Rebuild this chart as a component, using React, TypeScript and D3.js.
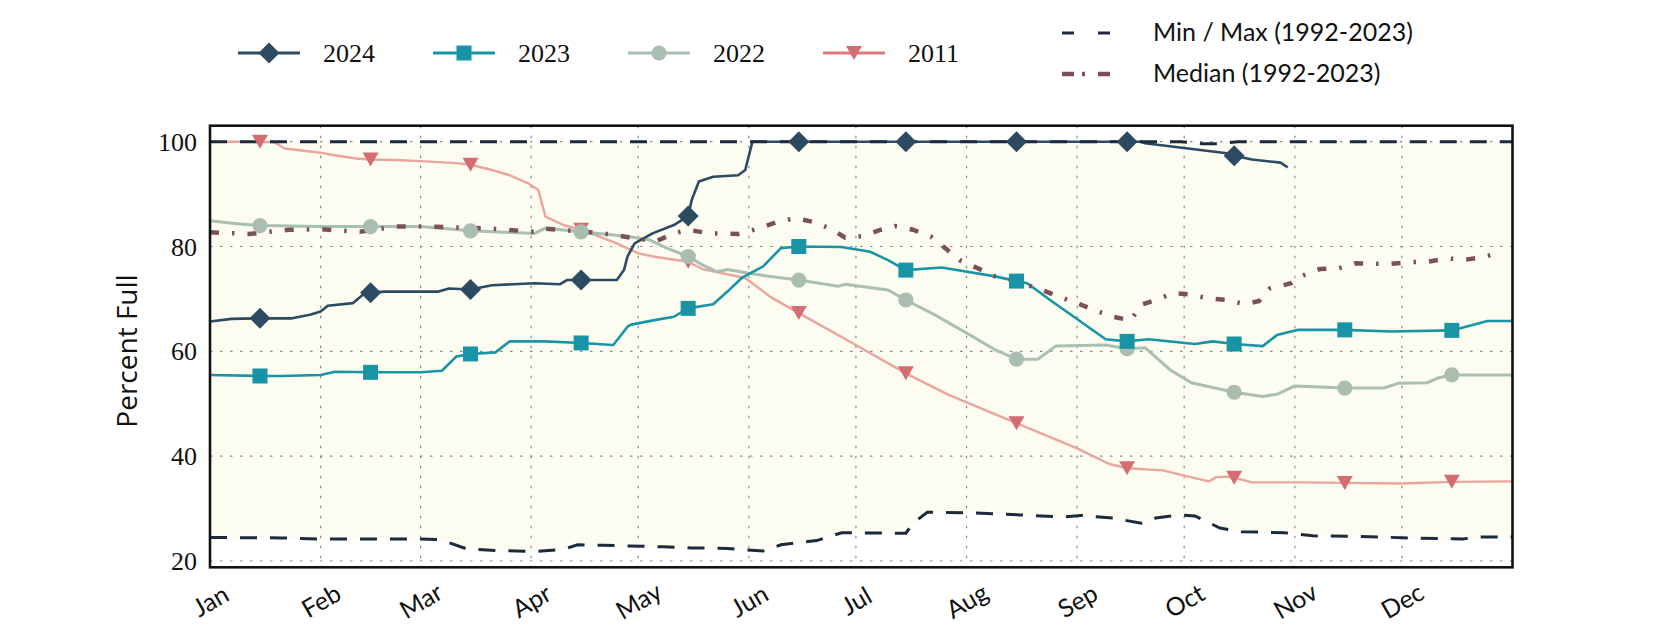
import React, { useRef, useEffect } from 'react';
import * as d3 from 'd3';

type Pt = [number, number]; // [day of year, percent full]

const months = ['Jan', 'Feb', 'Mar', 'Apr', 'May', 'Jun', 'Jul', 'Aug', 'Sep', 'Oct', 'Nov', 'Dec'];
const monthStartDays = [0, 31, 59, 90, 120, 151, 181, 212, 243, 273, 304, 334];
const markerDays = [14, 45, 73, 104, 134, 165, 195, 226, 257, 287, 318, 348];
const yTicks = [20, 40, 60, 80, 100];

const maxLevel: Pt[] = [
  [0, 100], [272, 100], [278, 99.6], [283, 99.6], [288, 100], [365, 100],
];

const minLevel: Pt[] = [
  [0, 24.5], [20, 24.4], [31, 24.2], [59, 24.2], [64, 24.1], [67, 23.5], [72, 22.3], [80, 22.0],
  [91, 21.8], [99, 22.2], [103, 23.1], [110, 23.0], [127, 22.7], [135, 22.5], [145, 22.4],
  [155, 21.9], [160, 23.1], [170, 23.9], [177, 25.4], [195, 25.3], [197, 27.2], [201, 29.3],
  [214, 29.2], [227, 28.8], [239, 28.4], [244, 28.7], [253, 28.2], [261, 27.2], [265, 28.2],
  [272, 28.8], [276, 28.6], [283, 26.3], [289, 25.6], [301, 25.4], [309, 24.8], [322, 24.7],
  [336, 24.4], [351, 24.2], [356, 24.6], [365, 24.6],
];

const medianLevel: Pt[] = [
  [0, 82.7], [11, 82.4], [22, 83.2], [31, 83.3], [42, 82.8], [52, 83.8], [62, 83.8], [79, 83.4],
  [91, 82.8], [94, 83.4], [109, 82.6], [119, 81.6], [125, 81.0], [130, 82.5], [134, 83.2],
  [140, 82.5], [148, 82.4], [154, 83.5], [159, 84.7], [164, 85.4], [169, 84.7], [174, 83.4],
  [178, 81.7], [183, 82.0], [188, 83.2], [192, 83.9], [197, 83.2], [202, 81.9], [206, 79.7],
  [210, 77.4], [215, 75.9], [220, 74.3], [225, 73.6], [234, 71.5], [238, 70.4], [243, 69.2],
  [248, 67.8], [253, 66.6], [258, 65.9], [261, 68.9], [265, 69.8], [270, 71.1], [274, 70.9],
  [280, 70.1], [285, 69.8], [290, 69.0], [294, 69.6], [297, 72.0], [303, 73.0], [306, 74.4],
  [311, 75.7], [316, 75.8], [321, 76.8], [326, 76.7], [331, 76.7], [336, 77.0], [341, 77.1],
  [347, 77.7], [352, 77.5], [357, 78.0], [362, 79.0],
];

const level2024: Pt[] = [
  [0, 65.7], [6, 66.2], [14, 66.3], [23, 66.3], [28, 67.0], [31, 67.6], [33, 68.7], [40, 69.2],
  [43, 70.9], [45, 71.2], [49, 71.4], [64, 71.4], [67, 72.0], [73, 71.8], [79, 72.6], [91, 73.0],
  [98, 72.8], [100, 73.6], [104, 73.6], [114, 73.6], [116, 75.5], [117, 78.1], [119, 80.6],
  [124, 82.5], [130, 84.1], [134, 85.8], [135, 88.9], [137, 92.4], [141, 93.3], [148, 93.6],
  [150, 94.6], [152, 100], [165, 100], [195, 100], [226, 100], [257, 100], [261, 100],
  [262, 99.7], [285, 97.8], [287, 97.3], [292, 96.6], [300, 96.0], [302, 95.1],
];

const level2023: Pt[] = [
  [0, 55.5], [14, 55.3], [20, 55.3], [31, 55.5], [35, 56.1], [45, 56.0], [59, 56.0], [65, 56.3],
  [69, 59.0], [73, 59.5], [80, 59.8], [84, 61.9], [94, 61.9], [104, 61.6], [113, 61.2],
  [117, 64.7], [118, 65.1], [125, 66.0], [130, 66.6], [134, 68.2], [141, 69.0], [145, 71.4],
  [149, 74.0], [155, 76.2], [160, 79.7], [165, 80.0], [177, 79.9], [185, 79.0], [190, 77.4],
  [195, 75.5], [205, 76.0], [220, 74.3], [226, 73.4], [229, 73.0], [236, 69.5], [251, 62.3],
  [257, 61.9], [263, 62.3], [276, 61.4], [281, 61.9], [287, 61.4], [295, 61.0], [299, 63.1],
  [305, 64.1], [318, 64.1], [331, 63.8], [348, 64.0], [353, 64.9], [358, 65.8], [365, 65.8],
];

const level2022: Pt[] = [
  [0, 84.9], [7, 84.4], [14, 84.0], [31, 83.8], [45, 83.8], [59, 83.8], [73, 83.0], [91, 82.5],
  [94, 83.5], [104, 82.8], [117, 81.9], [123, 81.3], [128, 79.7], [134, 78.1], [138, 76.5],
  [142, 75.2], [145, 75.6], [151, 74.9], [157, 74.3], [165, 73.6], [176, 72.4], [178, 72.8],
  [190, 71.7], [195, 69.8], [203, 67.0], [212, 63.5], [220, 60.3], [226, 58.5], [232, 58.5],
  [237, 61.0], [251, 61.2], [257, 60.5], [262, 60.7], [269, 56.5], [275, 54.0], [287, 52.2],
  [295, 51.4], [299, 51.8], [304, 53.4], [318, 53.0], [329, 53.0], [333, 53.9], [341, 54.0],
  [344, 54.9], [348, 55.5], [365, 55.5],
];

const level2011: Pt[] = [
  [0, 100], [14, 100], [18, 99.9], [21, 98.7], [31, 97.9], [34, 97.5], [41, 96.8], [45, 96.6],
  [52, 96.5], [59, 96.3], [69, 95.9], [73, 95.6], [79, 94.6], [84, 93.6], [89, 92.1], [92, 90.8],
  [94, 85.7], [99, 84.1], [104, 83.2], [114, 80.6], [120, 78.7], [125, 78.0], [134, 77.1],
  [138, 75.7], [150, 74.0], [157, 70.4], [165, 67.3], [180, 61.6], [195, 55.8], [207, 51.7],
  [226, 46.3], [243, 41.5], [252, 38.5], [257, 37.7], [267, 37.3], [273, 36.3], [280, 35.2],
  [282, 36.0], [285, 36.1], [287, 35.9], [292, 35.0], [305, 35.0], [318, 34.9], [334, 34.8],
  [348, 35.1], [365, 35.2],
];

const seriesNames = ['2024', '2023', '2022', '2011'];
const seriesData: Record<string, Pt[]> = {
  '2024': level2024, '2023': level2023, '2022': level2022, '2011': level2011,
};

const seriesStyle: Record<string, { line: string; marker: string; shape: string; width: number }> = {
  '2024': { line: '#2c4a62', marker: '#2c4a62', shape: 'diamond', width: 2.6 },
  '2023': { line: '#1894a6', marker: '#1894a6', shape: 'square', width: 2.6 },
  '2022': { line: '#a9bfb1', marker: '#a9bdb0', shape: 'circle', width: 3 },
  '2011': { line: '#eaa59d', marker: '#d36d72', shape: 'triangle', width: 2.4 },
};

const markerPath = (shape: string) => {
  if (shape === 'diamond') return 'M0,-10.5L10.5,0L0,10.5L-10.5,0Z';
  if (shape === 'square') return 'M-7.5,-7.5H7.5V7.5H-7.5Z';
  if (shape === 'triangle') return 'M-8,-7L8,-7L0,7Z';
  return d3.symbol(d3.symbolCircle, Math.PI * 7.6 * 7.6)();
};

const App = () => {
  const svgRef = useRef<SVGSVGElement>(null);

  useEffect(() => {
    document.body.style.margin = '0';
    const svg = d3.select(svgRef.current);
    svg.selectAll('*').remove();

    const plot = { left: 210, right: 1512.5, top: 125.7, bottom: 567.3 };
    const x = d3.scaleLinear().domain([0, 365]).range([plot.left, plot.right]);
    const y = d3.scaleLinear().domain([18.8, 103.05]).range([plot.bottom, plot.top]);
    const line = d3.line<Pt>().x(d => x(d[0])).y(d => y(d[1]));

    // min/max band
    const back = line(minLevel.slice().reverse()) || '';
    svg.append('path')
      .attr('d', (line(maxLevel) || '') + 'L' + back.slice(1) + 'Z')
      .attr('fill', '#fcfcf1');

    // grid
    const grid = svg.append('g').attr('class', 'grid')
      .attr('stroke', '#8a8a8a').attr('stroke-width', 1.2).attr('stroke-dasharray', '2.5,7.5');
    grid.selectAll('.vgrid').data(monthStartDays.slice(1)).enter().append('line')
      .attr('x1', d => x(d)).attr('x2', d => x(d)).attr('y1', plot.top).attr('y2', plot.bottom);
    grid.selectAll('.hgrid').data(yTicks).enter().append('line')
      .attr('x1', plot.left).attr('x2', plot.right).attr('y1', d => y(d)).attr('y2', d => y(d));

    // yearly lines
    const drawOrder = seriesNames.slice().reverse();
    drawOrder.forEach(name => {
      const st = seriesStyle[name];
      svg.append('path').attr('d', line(seriesData[name]))
        .attr('fill', 'none').attr('stroke', st.line).attr('stroke-width', st.width)
        .attr('stroke-linejoin', 'round');
    });

    svg.append('path').attr('d', line(medianLevel))
      .attr('fill', 'none').attr('stroke', '#7a5158').attr('stroke-width', 4.5)
      .attr('stroke-dasharray', '9,13,2.5,13');

    [minLevel, maxLevel].forEach(lv => {
      svg.append('path').attr('d', line(lv))
        .attr('fill', 'none').attr('stroke', '#1b2a3c').attr('stroke-width', 3)
        .attr('stroke-dasharray', '17,13');
    });

    // markers on the 15th of each month
    drawOrder.forEach(name => {
      const st = seriesStyle[name];
      svg.append('g').selectAll('path')
        .data(seriesData[name].filter(d => markerDays.includes(d[0])))
        .enter().append('path')
        .attr('d', markerPath(st.shape))
        .attr('transform', d => `translate(${x(d[0])},${y(d[1])})`)
        .attr('fill', st.marker);
    });

    // frame
    svg.append('rect')
      .attr('x', plot.left).attr('y', plot.top)
      .attr('width', plot.right - plot.left).attr('height', plot.bottom - plot.top)
      .attr('fill', 'none').attr('stroke', '#111').attr('stroke-width', 2.6);

    // y axis labels
    svg.append('g').selectAll('text').data(yTicks).enter().append('text')
      .attr('x', 197).attr('y', d => y(d) + 9)
      .attr('text-anchor', 'end')
      .style('font-family', '"Liberation Serif", serif').style('font-size', '26px')
      .attr('fill', '#111')
      .text(d => d);

    svg.append('text')
      .attr('transform', 'translate(137,351) rotate(-90)')
      .attr('text-anchor', 'middle')
      .style('font-family', '"Open Sans", sans-serif').style('font-size', '28px')
      .attr('fill', '#111')
      .text('Percent Full');

    // x axis labels
    svg.append('g').selectAll('text').data(monthStartDays).enter().append('text')
      .attr('transform', d => `translate(${x(d)},600) rotate(-30)`)
      .attr('text-anchor', 'middle').attr('dominant-baseline', 'central')
      .style('font-family', 'Lato, sans-serif').style('font-size', '25px')
      .attr('fill', '#111')
      .text((d, i) => months[i]);

    // legend
    const legend = svg.append('g').attr('class', 'legend');
    seriesNames.forEach((name, i) => {
      const st = seriesStyle[name];
      const lx = 238 + i * 195;
      legend.append('line').attr('x1', lx).attr('x2', lx + 62).attr('y1', 53).attr('y2', 53)
        .attr('stroke', name === '2011' ? '#d97b7c' : st.line).attr('stroke-width', 3);
      legend.append('path').attr('d', markerPath(st.shape))
        .attr('transform', `translate(${lx + 31},53)`).attr('fill', st.marker);
      legend.append('text').attr('x', lx + 85).attr('y', 62)
        .style('font-family', '"Liberation Serif", serif').style('font-size', '26px')
        .attr('fill', '#111').text(name);
    });

    legend.append('line').attr('x1', 1062).attr('x2', 1110).attr('y1', 33).attr('y2', 33)
      .attr('stroke', '#1b2a3c').attr('stroke-width', 3).attr('stroke-dasharray', '12,24');
    legend.append('text').attr('x', 1153).attr('y', 41)
      .style('font-family', 'Lato, sans-serif').style('font-size', '25px')
      .attr('fill', '#111').text('Min / Max (1992-2023)');

    legend.append('line').attr('x1', 1062).attr('x2', 1110).attr('y1', 74).attr('y2', 74)
      .attr('stroke', '#7a5158').attr('stroke-width', 4.5).attr('stroke-dasharray', '12,8,3,13');
    legend.append('text').attr('x', 1153).attr('y', 82)
      .style('font-family', 'Lato, sans-serif').style('font-size', '25px')
      .attr('fill', '#111').text('Median (1992-2023)');
  }, []);

  return (
    <svg ref={svgRef} width={1680} height={630} style={{ display: 'block' }} />
  );
};

export default App;
